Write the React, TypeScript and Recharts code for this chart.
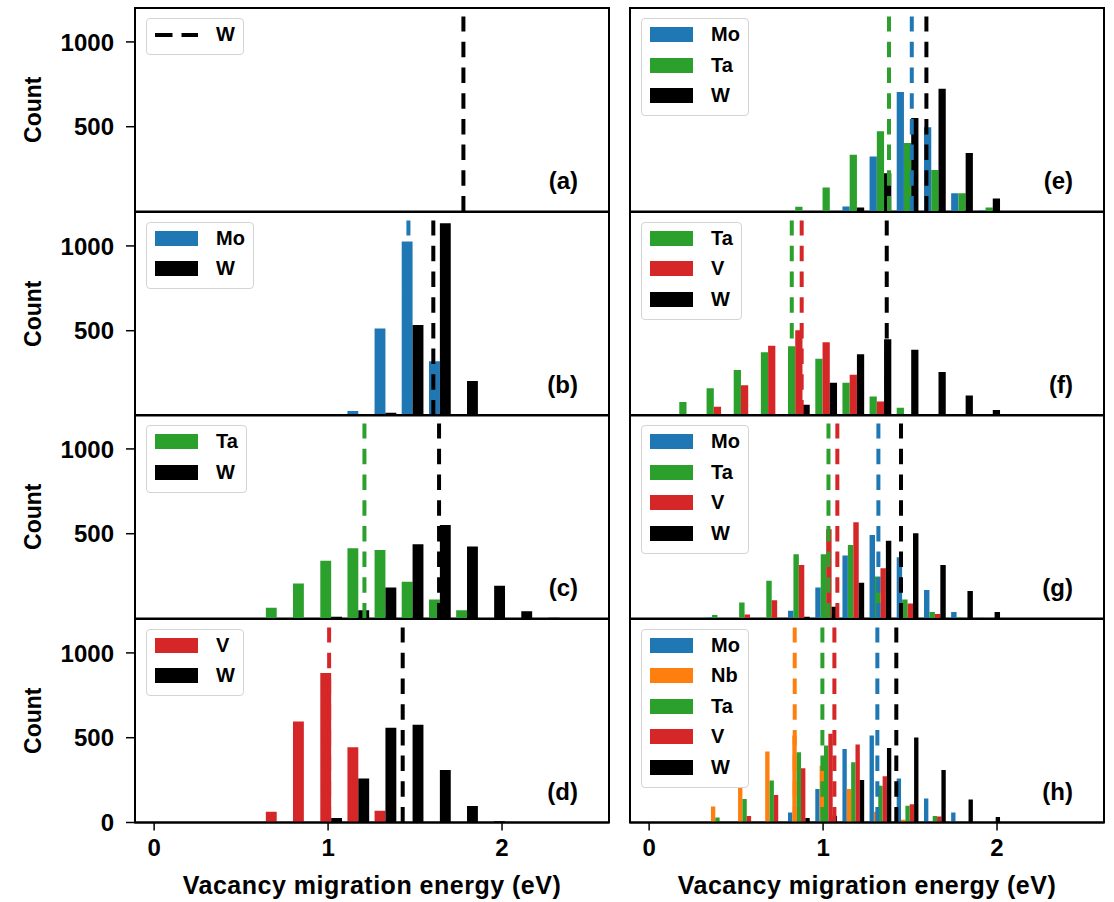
import React from 'react';
import { ComposedChart, Bar, XAxis, YAxis, ReferenceLine, ReferenceArea, Legend } from 'recharts';

// histogram bins: 16 bins of 0.15625 eV between 0 and 2.5 eV
const binCenters = [0.078, 0.234, 0.391, 0.547, 0.703, 0.859, 1.016, 1.172, 1.328, 1.484, 1.641, 1.797, 1.953, 2.109, 2.266, 2.422];

// (b) Mo-W
const bMo = [0, 0, 0, 0, 0, 0, 0, 26, 513, 1026, 320, 0, 0, 0, 0, 0];
const bW = [0, 0, 0, 0, 0, 0, 0, 0, 16, 533, 1134, 203, 0, 0, 0, 0];
// (c) Ta-W
const cTa = [0, 0, 0, 0, 63, 207, 341, 414, 404, 217, 112, 49, 0, 0, 0, 0];
const cW = [0, 0, 0, 0, 0, 0, 10, 49, 183, 438, 552, 424, 193, 43, 5, 0];
// (d) V-W
const dV = [0, 0, 0, 0, 63, 596, 882, 444, 69, 0, 0, 0, 0, 0, 0, 0];
const dW = [0, 0, 0, 0, 0, 0, 26, 260, 558, 576, 310, 97, 8, 0, 0, 0];
// (e) Mo-Ta-W
const eMo = [0, 0, 0, 0, 0, 0, 0, 30, 325, 704, 497, 108, 8, 0, 0, 0];
const eTa = [0, 0, 0, 0, 0, 28, 142, 335, 473, 404, 245, 108, 24, 0, 0, 0];
const eW = [0, 0, 0, 0, 0, 0, 0, 24, 225, 552, 724, 345, 77, 3, 0, 0];
// (f) Ta-V-W
const fTa = [8, 79, 160, 268, 373, 408, 335, 193, 112, 45, 5, 0, 0, 0, 0, 0];
const fV = [0, 8, 51, 179, 412, 503, 432, 241, 83, 5, 0, 0, 0, 0, 0, 0];
const fW = [0, 0, 0, 0, 0, 63, 193, 361, 450, 387, 256, 118, 32, 3, 0, 0];
// (g) Mo-Ta-V-W
const gMo = [0, 0, 8, 0, 0, 45, 183, 371, 493, 361, 168, 39, 5, 0, 0, 0];
const gTa = [0, 0, 20, 95, 223, 379, 379, 434, 247, 112, 39, 8, 0, 0, 0, 0];
const gV = [0, 0, 0, 24, 107, 316, 527, 568, 296, 89, 26, 0, 0, 0, 0, 0];
const gW = [0, 0, 0, 0, 0, 10, 69, 211, 458, 503, 316, 162, 39, 3, 0, 0];
// (h) Mo-Nb-Ta-V-W
const hMo = [0, 0, 0, 0, 0, 59, 197, 434, 513, 260, 142, 59, 5, 0, 0, 0];
const hNb = [0, 0, 95, 203, 418, 513, 335, 197, 63, 16, 0, 0, 0, 0, 0, 0];
const hTa = [0, 0, 30, 138, 247, 414, 454, 355, 217, 99, 39, 8, 0, 0, 0, 0];
const hV = [0, 0, 0, 39, 162, 320, 523, 460, 272, 107, 36, 0, 0, 0, 0, 0];
const hW = [0, 0, 0, 0, 0, 26, 40, 250, 440, 501, 310, 136, 32, 3, 0, 0];

// mean migration energy per element (dashed lines), same order as the legends
const aMeans = [1.778];
const bMeans = [1.462, 1.605];
const cMeans = [1.209, 1.638];
const dMeans = [1.006, 1.429];
const eMeans = [1.51, 1.379, 1.594];
const fMeans = [0.82, 0.877, 1.366];
const gMeans = [1.318, 1.031, 1.082, 1.448];
const hMeans = [1.312, 0.837, 0.996, 1.065, 1.421];

const xTicks = [0, 1, 2];
const yTicks = [0, 500, 1000];

const COLORS: Record<string, string> = {
  Mo: '#1f77b4',
  Nb: '#ff7f0e',
  Ta: '#2ca02c',
  V: '#d62728',
  W: '#000000',
};

const FONT = "'Liberation Sans', Arial, Helvetica, sans-serif";
const PLOT_W = 474;
const PLOT_H = 203.5;
const X_DOMAIN: [number, number] = [-0.11, 2.615];
const Y_DOMAIN: [number, number] = [0, 1200];
const BIN_WIDTH = 0.15625;
const MEAN_TOP = 1150;
const DASH = '15.5 10.2';

type Panel = {
  tag: string;
  elements: string[];
  series: number[][];
  means: number[];
};

const leftPanels: Panel[] = [
  { tag: '(a)', elements: ['W'], series: [], means: aMeans },
  { tag: '(b)', elements: ['Mo', 'W'], series: [bMo, bW], means: bMeans },
  { tag: '(c)', elements: ['Ta', 'W'], series: [cTa, cW], means: cMeans },
  { tag: '(d)', elements: ['V', 'W'], series: [dV, dW], means: dMeans },
];

const rightPanels: Panel[] = [
  { tag: '(e)', elements: ['Mo', 'Ta', 'W'], series: [eMo, eTa, eW], means: eMeans },
  { tag: '(f)', elements: ['Ta', 'V', 'W'], series: [fTa, fV, fW], means: fMeans },
  { tag: '(g)', elements: ['Mo', 'Ta', 'V', 'W'], series: [gMo, gTa, gV, gW], means: gMeans },
  { tag: '(h)', elements: ['Mo', 'Nb', 'Ta', 'V', 'W'], series: [hMo, hNb, hTa, hV, hW], means: hMeans },
];

const tickStyle = { fill: '#000', fontSize: 24, fontWeight: 700, fontFamily: FONT };
const frameLine = { stroke: '#000', strokeWidth: 2 };
const tickLine = { stroke: '#000', strokeWidth: 1.5 };

const LegendBox = ({ panel }: { panel: Panel }) => {
  const lineOnly = panel.series.length === 0;
  return (
    <div
      style={{
        display: 'inline-block',
        background: 'rgba(255,255,255,0.8)',
        border: '1px solid #d4d4d4',
        borderRadius: 4,
        padding: '8px 8px 12px 8px',
        fontFamily: FONT,
      }}
    >
      {panel.elements.map((el, i) => (
        <div key={el} style={{ display: 'flex', alignItems: 'flex-start', height: 15, marginTop: i === 0 ? 0 : 15.5 }}>
          {lineOnly ? (
            <svg width={43} height={15} style={{ display: 'block' }}>
              <line x1={0} y1={8} x2={43} y2={8} stroke={COLORS[el]} strokeWidth={4} strokeDasharray="17.5 9" />
            </svg>
          ) : (
            <span style={{ display: 'block', width: 43, height: 15, background: COLORS[el] }} />
          )}
          <span style={{ marginLeft: 18, fontSize: 20, fontWeight: 700, lineHeight: '15px', color: '#000' }}>{el}</span>
        </div>
      ))}
    </div>
  );
};

// count tick labels, set a little further away from the tick marks
const CountTick = (props: any) => {
  const { x, y, payload } = props;
  return (
    <text x={x - 10} y={y} dy="0.36em" textAnchor="end" {...tickStyle}>
      {payload.value}
    </text>
  );
};

const countLabel = (props: any) => {
  const { x, y, height } = props.viewBox;
  const cx = x + 41;
  const cy = y + height / 2;
  return (
    <text x={cx} y={cy} transform={`rotate(-90 ${cx} ${cy})`} textAnchor="middle" fill="#000" fontSize={23} fontWeight={700} fontFamily={FONT}>
      Count
    </text>
  );
};

const xTitle = (props: any) => {
  const { x, y, width } = props.viewBox;
  return (
    <text x={x + width / 2} y={y + 71} textAnchor="middle" fill="#000" fontSize={25} fontWeight={700} fontFamily={FONT} letterSpacing={0.5}>
      Vacancy migration energy (eV)
    </text>
  );
};

// panel letter in the lower right corner of the axes box
const panelTag = (tag: string) => (props: any) => {
  const { x, y, width, height } = props.viewBox;
  return (
    <text x={x + width - 31} y={y + height - 23} textAnchor="end" fill="#000" fontSize={24} fontWeight={700} fontFamily={FONT}>
      {tag}
    </text>
  );
};

const HistPanel = ({ panel, col, row }: { panel: Panel; col: number; row: number }) => {
  const isLeft = col === 0;
  const isBottom = row === 3;
  const yAxisW = isLeft ? 135 : 10;
  const plotLeft = isLeft ? 135 : 630;
  const plotTop = 8 + row * PLOT_H;
  const mTop = 2;
  const mRight = 2;
  const mBottom = isBottom ? 0 : 2;
  const xAxisH = isBottom ? 80 : 0;
  const width = yAxisW + PLOT_W + mRight;
  const height = mTop + PLOT_H + xAxisH + mBottom;

  // matplotlib-style grouped histogram: 80% of the bin shared by the datasets
  const pxPerEv = PLOT_W / (X_DOMAIN[1] - X_DOMAIN[0]);
  const barSize = (BIN_WIDTH * pxPerEv * 0.8) / Math.max(panel.series.length, 1);

  const rows = binCenters.map((center, i) => {
    const r: Record<string, number> = { center };
    panel.series.forEach((s, j) => {
      r[panel.elements[j]] = s[i];
    });
    return r;
  });

  return (
    <div style={{ position: 'absolute', left: plotLeft - yAxisW, top: plotTop - mTop }}>
      <ComposedChart
        width={width}
        height={height}
        data={rows}
        margin={{ top: mTop, right: mRight, bottom: mBottom, left: 0 }}
        barGap={0}
        barCategoryGap={0}
      >
        <XAxis
          dataKey="center"
          type="number"
          domain={X_DOMAIN}
          allowDataOverflow
          ticks={xTicks}
          axisLine={frameLine}
          tickLine={isBottom ? tickLine : false}
          tick={isBottom ? tickStyle : false}
          tickSize={8}
          tickMargin={8}
          height={xAxisH}
          label={isBottom ? xTitle : undefined}
        />
        <YAxis
          type="number"
          domain={Y_DOMAIN}
          allowDataOverflow
          ticks={yTicks}
          width={yAxisW}
          axisLine={frameLine}
          tickLine={tickLine}
          tick={isLeft ? <CountTick /> : false}
          tickSize={9}
          label={isLeft ? countLabel : undefined}
        />
        <ReferenceArea
          x1={X_DOMAIN[0]}
          x2={X_DOMAIN[1]}
          y1={Y_DOMAIN[0]}
          y2={Y_DOMAIN[1]}
          fill="none"
          fillOpacity={0}
          stroke="#000"
          strokeWidth={2}
          ifOverflow="visible"
          label={panelTag(panel.tag)}
        />
        {panel.series.map((_, j) => (
          <Bar
            key={panel.elements[j]}
            dataKey={panel.elements[j]}
            name={panel.elements[j]}
            fill={COLORS[panel.elements[j]]}
            barSize={barSize}
            isAnimationActive={false}
          />
        ))}
        {panel.means.map((m, j) => (
          <ReferenceLine
            key={`mean-${panel.elements[j]}`}
            segment={[
              { x: m, y: 0 },
              { x: m, y: MEAN_TOP },
            ]}
            stroke={COLORS[panel.elements[j]]}
            strokeWidth={4}
            strokeDasharray={DASH}
            ifOverflow="visible"
          />
        ))}
        <Legend
          layout="horizontal"
          verticalAlign="middle"
          align="center"
          wrapperStyle={{ left: yAxisW + 11, top: mTop + 10, width: 'auto', height: 'auto', lineHeight: 'normal' }}
          content={() => <LegendBox panel={panel} />}
        />
      </ComposedChart>
    </div>
  );
};

export default function App() {
  return (
    <div style={{ position: 'absolute', left: 0, top: 0, width: 1114, height: 902, background: '#fff' }}>
      {leftPanels.map((p, i) => (
        <HistPanel key={p.tag} panel={p} col={0} row={i} />
      ))}
      {rightPanels.map((p, i) => (
        <HistPanel key={p.tag} panel={p} col={1} row={i} />
      ))}
    </div>
  );
}
